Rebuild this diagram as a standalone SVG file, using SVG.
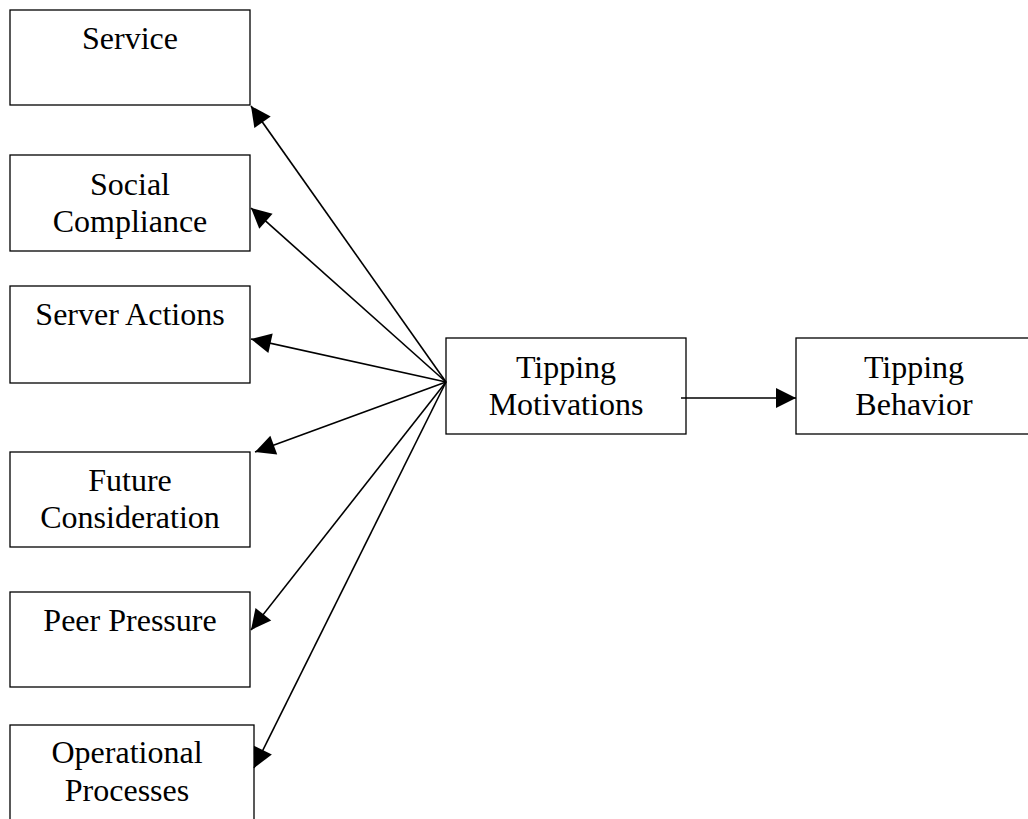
<svg xmlns="http://www.w3.org/2000/svg" width="1028" height="819" viewBox="0 0 1028 819">
  <style>
    .box { fill: #ffffff; stroke: #000000; stroke-width: 1.3; }
    .label { font-family: "Liberation Serif", "Times New Roman", serif; font-size: 32px; fill: #000000; text-anchor: middle; }
    .edge { fill: none; stroke: #000000; stroke-width: 1.6; marker-end: url(#arrow); }
  </style>
  <defs>
    <marker id="arrow" markerUnits="userSpaceOnUse" markerWidth="20" markerHeight="20" refX="20" refY="10" orient="auto" overflow="visible">
      <path d="M0,0 L20,10 L0,20 Z" fill="#000000"/>
    </marker>
  </defs>
  <rect width="1028" height="819" fill="#ffffff"/>

  <!-- factor boxes -->
  <g id="service">
    <rect class="box" x="10" y="10" width="240" height="95"/>
    <text class="label" x="130" y="49">Service</text>
  </g>
  <g id="social-compliance">
    <rect class="box" x="10" y="155" width="240" height="96"/>
    <text class="label" x="130" y="195">Social</text>
    <text class="label" x="130" y="232">Compliance</text>
  </g>
  <g id="server-actions">
    <rect class="box" x="10" y="286" width="240" height="97"/>
    <text class="label" x="130" y="325">Server Actions</text>
  </g>
  <g id="future-consideration">
    <rect class="box" x="10" y="452" width="240" height="95"/>
    <text class="label" x="130" y="491">Future</text>
    <text class="label" x="130" y="528">Consideration</text>
  </g>
  <g id="peer-pressure">
    <rect class="box" x="10" y="592" width="240" height="95"/>
    <text class="label" x="130" y="631">Peer Pressure</text>
  </g>
  <g id="operational-processes">
    <rect class="box" x="10" y="725" width="244" height="110"/>
    <text class="label" x="127" y="763">Operational</text>
    <text class="label" x="127" y="801">Processes</text>
  </g>

  <!-- central and outcome boxes -->
  <g id="tipping-motivations">
    <rect class="box" x="446" y="338" width="240" height="96"/>
    <text class="label" x="566" y="378">Tipping</text>
    <text class="label" x="566" y="415">Motivations</text>
  </g>
  <g id="tipping-behavior">
    <rect class="box" x="796" y="338" width="240" height="96"/>
    <text class="label" x="914" y="378">Tipping</text>
    <text class="label" x="914" y="415">Behavior</text>
  </g>

  <!-- connectors -->
  <g id="connectors">
    <line class="edge" x1="446" y1="382" x2="251" y2="106"/>
    <line class="edge" x1="446" y1="382" x2="251" y2="208"/>
    <line class="edge" x1="446" y1="382" x2="251" y2="339"/>
    <line class="edge" x1="446" y1="382" x2="255" y2="452"/>
    <line class="edge" x1="446" y1="382" x2="251" y2="630"/>
    <line class="edge" x1="446" y1="382" x2="254" y2="768"/>
    <line class="edge" x1="681" y1="398" x2="796" y2="398"/>
  </g>
</svg>
